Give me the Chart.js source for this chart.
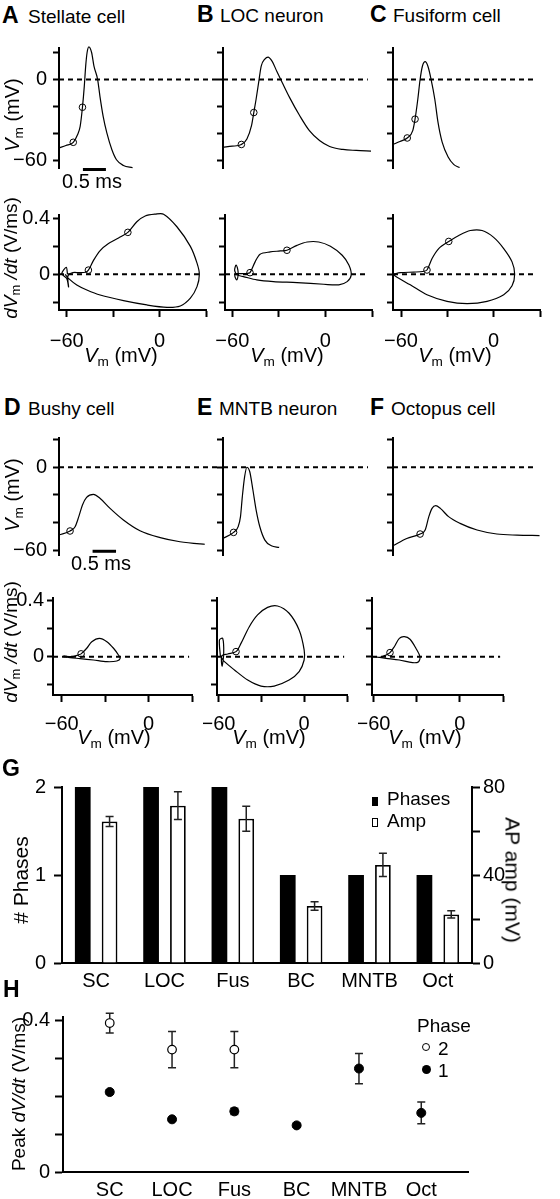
<!DOCTYPE html>
<html>
<head>
<meta charset="utf-8">
<title>AP waveforms and phase plots</title>
<script src="https://cdn.jsdelivr.net/npm/chart.js@4.4.1/dist/chart.umd.min.js"></script>
<style>
  body { margin: 0; background: #fff; }
  #fig { position: relative; width: 560px; height: 1199px; overflow: hidden;
         font-family: "Liberation Sans", Arial, Helvetica, sans-serif; color: #000; }
  #fig canvas { position: absolute; }
  .txt { position: absolute; white-space: nowrap; line-height: 1; }
  .txt sub { font-size: 0.68em; vertical-align: -0.28em; line-height: 0; font-style: normal; }
  .letter { font-weight: bold; }
  .mk { position: absolute; box-sizing: border-box; }
</style>
</head>
<body>
<div id="fig"></div>
<script>
// membrane potential traces, [time (ms), Vm (mV)]
const stellateVm = [[0,-50.6],[0.15,-48.8],[0.31,-46.4],[0.40,-41.0],[0.46,-34.6],[0.51,-20.5],[0.55,-4.9],[0.58,9.9],[0.61,19.8],[0.65,24.2],[0.71,19.8],[0.76,9.9],[0.84,0],[0.89,-12.4],[0.96,-27.2],[1.04,-39.5],[1.15,-51.9],[1.25,-59.3],[1.40,-63.5],[1.60,-65.2]];
const stellateVmMarks = [[0.31,-46.4],[0.51,-20.5]];
const locVm = [[0,-50.0],[0.20,-49.3],[0.40,-48.0],[0.52,-43.9],[0.62,-34.1],[0.67,-24.4],[0.72,-14.6],[0.78,-1.2],[0.83,9.8],[0.91,15.1],[0.98,16.6],[1.07,13.4],[1.17,6.1],[1.29,-2.4],[1.45,-13.4],[1.67,-26.8],[1.88,-37.8],[2.10,-45.1],[2.32,-49.5],[2.61,-51.7],[2.90,-52.4],[3.22,-52.9]];
const locVmMarks = [[0.40,-48.0],[0.67,-24.4]];
const fusVm = [[0,-48.0],[0.15,-45.8],[0.31,-43.2],[0.43,-37.8],[0.48,-29.3],[0.54,-14.6],[0.59,0],[0.64,9.8],[0.70,13.2],[0.76,9.8],[0.83,0],[0.91,-14.6],[0.98,-31.7],[1.07,-46.3],[1.20,-57.3],[1.32,-62.7],[1.45,-65.1]];
const fusVmMarks = [[0.31,-43.2],[0.48,-29.3]];
const bushyVm = [[0,-49.1],[0.24,-46.2],[0.35,-43.1],[0.43,-35.8],[0.51,-27.3],[0.60,-21.8],[0.75,-19.6],[0.89,-22.5],[1.11,-29.8],[1.40,-38.2],[1.76,-46.0],[2.20,-51.0],[2.63,-54.0],[3.07,-55.6],[3.17,-55.8]];
const bushyVmMarks = [[0.24,-46.2]];
const mntbVm = [[0,-51.5],[0.23,-47.2],[0.33,-43.0],[0.38,-35.8],[0.42,-21.3],[0.47,-6.8],[0.52,0],[0.58,-3.1],[0.65,-16.5],[0.72,-31.0],[0.80,-43.1],[0.91,-52.8],[1.05,-56.9],[1.22,-58.1]];
const mntbVmMarks = [[0.23,-47.2]];
const octopusVm = [[0,-56.9],[0.30,-51.6],[0.59,-48.4],[0.70,-45.5],[0.78,-35.8],[0.85,-29.8],[0.93,-27.8],[1.03,-29.8],[1.21,-35.8],[1.46,-40.7],[1.83,-45.5],[2.26,-48.4],[2.70,-49.2],[3.19,-49.5]];
const octopusVmMarks = [[0.59,-48.4]];

// phase plots, [Vm (mV), dVm/dt (V/ms)]
const stellatePhase = [[-59.5,0.0],[-60.3,0.05],[-63.2,0.005],[-60.0,-0.03],[-58.8,-0.09],[-59.2,-0.01],[-56,0.012],[-52,0.012],[-48,0.015],[-46,0.03],[-42.7,0.10],[-38.4,0.17],[-33,0.22],[-26.5,0.26],[-20.5,0.30],[-14.7,0.376],[-9.3,0.417],[-2.8,0.43],[2.6,0.43],[11.2,0.34],[19.9,0.20],[24.2,0.08],[25.7,0],[24.2,-0.088],[19.9,-0.17],[13.4,-0.226],[4.8,-0.236],[-8.2,-0.219],[-23.3,-0.188],[-38.4,-0.148],[-47,-0.112],[-53.5,-0.076],[-58.9,-0.029],[-61,0]];
const stellatePhaseMarks = [[-46,0.03],[-20.5,0.30]];
const locPhase = [[-57.5,0.0],[-58.5,0.03],[-57.6,0.066],[-56.4,0.03],[-56.3,-0.01],[-57.2,-0.04],[-58.4,-0.01],[-57.5,0.005],[-55,0.005],[-51,0.006],[-48.6,0.012],[-45.3,0.089],[-42.1,0.144],[-35.6,0.16],[-29.1,0.167],[-24.8,0.172],[-18.3,0.207],[-11.8,0.231],[-4.3,0.231],[3.2,0.2],[10.8,0.136],[15.1,0.066],[16.6,-0.005],[14,-0.052],[8.6,-0.075],[-1.1,-0.071],[-18.3,-0.059],[-33.5,-0.052],[-44.2,-0.04],[-52.9,-0.016],[-57.2,-0.005]];
const locPhaseMarks = [[-48.6,0.012],[-24.8,0.172]];
const fusPhase = [[-65.2,0],[-60.4,0.012],[-51.8,0.016],[-46,0.02],[-43.2,0.031],[-39.9,0.113],[-35.6,0.184],[-29.1,0.235],[-22.6,0.278],[-15.1,0.313],[-7.5,0.313],[0,0.264],[6.5,0.184],[11.9,0.089],[13.6,0],[11.9,-0.082],[6.5,-0.146],[-4.3,-0.193],[-17.2,-0.209],[-30.2,-0.193],[-43.2,-0.146],[-54,-0.075],[-62.6,-0.021],[-65.2,0]];
const fusPhaseMarks = [[-43.2,0.031],[-29.1,0.235]];
const bushyPhase = [[-58.8,0.005],[-53,0],[-48.5,0.012],[-46.6,0.02],[-42.7,0.06],[-39.2,0.107],[-33.9,0.131],[-28.8,0.107],[-24.2,0.06],[-20.8,0.012],[-19.6,-0.012],[-21.9,-0.031],[-28.8,-0.036],[-38.1,-0.024],[-47.3,-0.014],[-54.2,-0.007],[-58.8,0]];
const bushyPhaseMarks = [[-46.6,0.02]];
const mntbPhase = [[-58.6,0],[-59.3,0.119],[-57,0.131],[-56.3,0.024],[-57.4,-0.067],[-57.7,0.005],[-53.5,0.019],[-47.7,0.036],[-44.2,0.095],[-38.4,0.214],[-32.6,0.298],[-25.6,0.352],[-18.6,0.362],[-10.5,0.31],[-3.5,0.19],[0,0.048],[0,-0.024],[-3.5,-0.107],[-10.5,-0.167],[-21,-0.21],[-30.2,-0.21],[-39.5,-0.167],[-48.8,-0.095],[-55.8,-0.036],[-58.1,-0.005]];
const mntbPhaseMarks = [[-47.7,0.036]];
const octopusPhase = [[-60.5,0],[-55.4,-0.005],[-51.2,0.012],[-48.5,0.029],[-45.5,0.071],[-42,0.131],[-38.5,0.143],[-34.6,0.124],[-30.5,0.06],[-27.7,0],[-28.6,-0.036],[-32.8,-0.043],[-42,-0.024],[-51.2,-0.012],[-60,0]];
const octopusPhaseMarks = [[-48.5,0.029]];

// G and H summary
const cellTypes = ['SC', 'LOC', 'Fus', 'BC', 'MNTB', 'Oct'];
const phaseCount = [2, 2, 2, 1, 1, 1];
const apAmp = [64.3, 71.5, 65.6, 25.9, 44.6, 22.1];
const apAmpErr = [2.3, 6.3, 5.7, 1.9, 5.3, 1.7];
const peakPhase2 = [0.393, 0.323, 0.323, null, null, null];
const peakPhase2Err = [0.026, 0.048, 0.048, null, null, null];
const peakPhase1 = [0.211, 0.139, 0.160, 0.123, 0.273, 0.156];
const peakPhase1Err = [0.006, 0.005, 0.008, 0.005, 0.040, 0.029];

// ticks
const vmTicks = [-60, -40, -20, 0, 20];
const vmTickLabels = [-60, 0];
const phaseXTicks = [-60, -30, 0, 30];
const phaseXLabels = [-60, 0];
const phaseYTicks = [-0.2, 0, 0.2, 0.4];
const phaseYLabels = [0, 0.4];
const gLeftTicks = [0, 1, 2];
const gRightTicks = [0, 20, 40, 60, 80];
const gRightLabels = [0, 40, 80];
const hXTicks = [1, 2, 3, 4, 5, 6];
const hYTicks = [0, 0.1, 0.2, 0.3, 0.4];
const hYLabels = [0, 0.4];

const FONT = '"Liberation Sans", Arial, Helvetica, sans-serif';
const fig = document.getElementById('fig');

Chart.defaults.font.family = FONT;
Chart.defaults.font.size = 20;
Chart.defaults.color = '#000';
Chart.defaults.animation = false;
Chart.defaults.plugins.legend.display = false;
Chart.defaults.plugins.tooltip.enabled = false;

const fmt = v => v < 0 ? '\u2212' + Math.abs(v) : String(v);
const xy = pts => pts.map(p => ({x: p[0], y: p[1]}));

// error bars drawn from dataset.errors through the y scale
const errorBars = {
  id: 'errorBars',
  beforeDatasetsDraw(chart, args, opts) { if (opts.under) drawErrors(chart, opts); },
  afterDatasetsDraw(chart, args, opts) { if (!opts.under) drawErrors(chart, opts); }
};
function drawErrors(chart, opts) {
  const ctx = chart.ctx;
  ctx.save();
  ctx.strokeStyle = '#222';
  ctx.lineWidth = opts.width || 1.5;
  chart.data.datasets.forEach((ds, i) => {
    if (!ds.errors) return;
    const meta = chart.getDatasetMeta(i);
    const ys = chart.scales[meta.yAxisID];
    const c = (opts.cap || 8) / 2;
    meta.data.forEach((el, j) => {
      const e = ds.errors[j];
      if (e == null) return;
      const raw = ds.data[j];
      const v = typeof raw === 'object' ? raw.y : raw;
      const x = el.x, y1 = ys.getPixelForValue(v + e), y0 = ys.getPixelForValue(v - e);
      ctx.beginPath();
      ctx.moveTo(x, y0); ctx.lineTo(x, y1);
      ctx.moveTo(x - c, y1); ctx.lineTo(x + c, y1);
      ctx.moveTo(x - c, y0); ctx.lineTo(x + c, y0);
      ctx.stroke();
    });
  });
  ctx.restore();
}

function axis(ticks, labels, o) {
  const a = {
    type: 'linear', bounds: 'data',
    border: {display: true, width: 2, color: '#000'},
    grid: {display: true, drawOnChartArea: false, drawTicks: true, tickLength: 6, tickWidth: 2, tickColor: '#000'},
    ticks: {autoSkip: false, maxRotation: 0, padding: 6, callback: v => labels.indexOf(v) >= 0 ? fmt(v) : ''},
    afterBuildTicks: s => { s.ticks = ticks.map(v => ({value: v})); }
  };
  for (const k in o) {
    if (o[k] && typeof o[k] === 'object' && !Array.isArray(o[k]) && a[k]) Object.assign(a[k], o[k]);
    else a[k] = o[k];
  }
  return a;
}

// area = chart area in page px [left, top, right, bottom]; margin = room round it [l, t, r, b]
function makeChart(area, margin, data, scales, extra) {
  extra = extra || {};
  const [l, t, r, b] = area, [ml, mt, mr, mb] = margin;
  const w = r - l + ml + mr, h = b - t + mt + mb;
  const cv = document.createElement('canvas');
  cv.width = w; cv.height = h;
  cv.style.left = (l - ml) + 'px'; cv.style.top = (t - mt) + 'px';
  cv.style.width = w + 'px'; cv.style.height = h + 'px';
  fig.appendChild(cv);
  let padRight = mr, padBottom = mb;
  for (const id in scales) {
    const s = scales[id];
    if (s.display === false) continue;
    const pos = s.position || (id.startsWith('x') ? 'bottom' : 'left');
    if (pos === 'right') padRight = 0;
    if (pos === 'bottom') padBottom = 0;
    const size = pos === 'bottom' ? mb : pos === 'right' ? mr : ml;
    s.afterFit = sc => {
      if (sc.isHorizontal()) sc.height = size; else sc.width = size;
      sc.paddingLeft = sc.paddingRight = sc.paddingTop = sc.paddingBottom = 0;
    };
  }
  return new Chart(cv, {
    type: extra.type || 'scatter',
    data: data,
    options: {
      responsive: false, maintainAspectRatio: false, animation: false,
      layout: {autoPadding: false, padding: {left: 0, top: mt, right: padRight, bottom: padBottom}},
      scales: scales,
      plugins: Object.assign({legend: {display: false}, tooltip: {enabled: false}}, extra.plugins || {})
    },
    plugins: [errorBars]
  });
}

function vmPanel(p) {
  const ds = [
    {data: [{x: 0, y: 0}, {x: p.dashEnd, y: 0}], showLine: true, borderColor: '#000', borderWidth: 2, borderDash: [5, 4], pointRadius: 0, clip: false},
    {data: xy(p.trace), showLine: true, borderColor: '#000', borderWidth: 1.2, pointRadius: 0, cubicInterpolationMode: 'monotone', clip: false},
    {data: xy(p.marks), pointRadius: 3.3, pointBorderWidth: 1, pointBorderColor: '#000', pointBackgroundColor: 'rgba(255,255,255,0)', clip: false}
  ];
  if (p.bar) ds.push({data: [{x: p.bar[0], y: p.bar[2]}, {x: p.bar[1], y: p.bar[2]}], showLine: true, borderColor: '#000', borderWidth: 3, pointRadius: 0, clip: false});
  makeChart(p.area, p.margin, {datasets: ds}, {
    x: {type: 'linear', display: false, bounds: 'data', min: 0, max: p.xMax},
    y: axis(vmTicks, p.labels ? vmTickLabels : [], {min: p.y[0], max: p.y[1]})
  });
}

function phasePanel(p) {
  const ds = [
    {data: [{x: p.x[0], y: 0}, {x: 28, y: 0}], showLine: true, borderColor: '#000', borderWidth: 2, borderDash: [5, 4], pointRadius: 0, clip: false},
    {data: xy(p.trace), showLine: true, borderColor: '#000', borderWidth: 1.2, pointRadius: 0, tension: 0.3, clip: false},
    {data: xy(p.marks), pointRadius: 3.3, pointBorderWidth: 1, pointBorderColor: '#000', pointBackgroundColor: 'rgba(255,255,255,0)', clip: false}
  ];
  makeChart(p.area, p.margin, {datasets: ds}, {
    x: axis(phaseXTicks, phaseXLabels, {min: p.x[0], max: p.x[1], grid: {tickLength: 7}, ticks: {padding: p.xPad}}),
    y: axis(phaseYTicks, p.labels ? phaseYLabels : [], {min: p.y[0], max: p.y[1], ticks: {padding: 3}})
  });
}

// A-F traces
const topVmY = [-65.4, 23.3], midVmY = [-63.6, 21.2];
vmPanel({trace: stellateVm, marks: stellateVmMarks, area: [59, 48, 220, 168], margin: [59, 8, 3, 28], y: topVmY, xMax: 3.5, dashEnd: 3.5, labels: true, bar: [0.52, 1.02, -66.5]});
vmPanel({trace: locVm, marks: locVmMarks, area: [223, 48, 371, 168], margin: [14, 8, 3, 28], y: topVmY, xMax: 3.22, dashEnd: 3.15});
vmPanel({trace: fusVm, marks: fusVmMarks, area: [393, 48, 540, 168], margin: [14, 8, 10, 28], y: topVmY, xMax: 3.2, dashEnd: 3.12});
vmPanel({trace: bushyVm, marks: bushyVmMarks, area: [59, 438, 220, 555], margin: [59, 8, 3, 28], y: midVmY, xMax: 3.5, dashEnd: 3.5, labels: true, bar: [0.73, 1.24, -60.9]});
vmPanel({trace: mntbVm, marks: mntbVmMarks, area: [223, 438, 368, 555], margin: [14, 8, 3, 28], y: midVmY, xMax: 3.15, dashEnd: 3.15});
vmPanel({trace: octopusVm, marks: octopusVmMarks, area: [393, 438, 540, 555], margin: [14, 8, 10, 28], y: midVmY, xMax: 3.2, dashEnd: 3.12});

const topPhY = [-0.255, 0.424], botPhY = [-0.274, 0.419];
phasePanel({trace: stellatePhase, marks: stellatePhaseMarks, area: [59, 215, 206, 310], margin: [59, 8, 8, 48], x: [-65, 30], y: topPhY, xPad: 12, labels: true});
phasePanel({trace: locPhase, marks: locPhaseMarks, area: [225, 215, 372, 310], margin: [14, 8, 8, 48], x: [-64.7, 30], y: topPhY, xPad: 12});
phasePanel({trace: fusPhase, marks: fusPhaseMarks, area: [393, 215, 540, 310], margin: [14, 8, 12, 48], x: [-65.2, 30], y: topPhY, xPad: 12});
phasePanel({trace: bushyPhase, marks: bushyPhaseMarks, area: [53, 598, 192, 695], margin: [53, 8, 8, 48], x: [-66, 30], y: botPhY, xPad: 10, labels: true});
phasePanel({trace: mntbPhase, marks: mntbPhaseMarks, area: [217, 598, 347, 695], margin: [14, 8, 8, 48], x: [-61, 30], y: botPhY, xPad: 10});
phasePanel({trace: octopusPhase, marks: octopusPhaseMarks, area: [372, 598, 503, 695], margin: [14, 8, 12, 48], x: [-61, 30], y: botPhY, xPad: 10});

// G
const barShape = {barPercentage: 0.586, categoryPercentage: 0.785};
makeChart([62, 787, 472, 963], [62, 12, 88, 34], {
  labels: cellTypes,
  datasets: [
    Object.assign({label: 'Phases', data: phaseCount, yAxisID: 'y', backgroundColor: '#000', borderWidth: 0}, barShape),
    Object.assign({label: 'Amp', data: apAmp, errors: apAmpErr, yAxisID: 'y2', backgroundColor: '#fff', borderColor: '#000', borderWidth: 1.8}, barShape)
  ]
}, {
  x: {type: 'category', offset: true, grid: {display: false, drawTicks: false}, border: {display: true, width: 2, color: '#000'}, ticks: {padding: 6, autoSkip: false, maxRotation: 0}},
  y: axis(gLeftTicks, gLeftTicks, {min: 0, max: 2, grid: {tickLength: 8}, ticks: {padding: 8}}),
  y2: axis(gRightTicks, gRightLabels, {position: 'right', min: 0, max: 80, grid: {tickLength: 8}, ticks: {padding: 3}})
}, {type: 'bar', plugins: {errorBars: {under: false, cap: 8, width: 1.5}}});

// H
const hPts = vals => vals.map((v, i) => v == null ? null : {x: i + 1, y: v}).filter(Boolean);
const hErr = (vals, errs) => errs.filter((e, i) => vals[i] != null);
makeChart([63, 1017, 468, 1172], [63, 10, 92, 27], {
  datasets: [
    {label: '1', data: hPts(peakPhase1), errors: hErr(peakPhase1, peakPhase1Err), pointRadius: 4.5, pointBackgroundColor: '#000', pointBorderColor: '#000', pointBorderWidth: 1},
    {label: '2', data: hPts(peakPhase2), errors: hErr(peakPhase2, peakPhase2Err), pointRadius: 4.3, pointBackgroundColor: '#fff', pointBorderColor: '#000', pointBorderWidth: 1.2}
  ]
}, {
  x: axis(hXTicks, [], {min: 0.25, max: 6.75, grid: {display: false, drawTicks: false}, ticks: {padding: 6, callback: v => cellTypes[v - 1] || ''}}),
  y: axis(hYTicks, hYLabels, {min: 0, max: 0.409, grid: {tickLength: 8}, ticks: {padding: 5}})
}, {plugins: {errorBars: {under: true, cap: 8, width: 1.5}}});

// text
function txt(html, x, base, size, o) {
  o = o || {};
  const d = document.createElement('div');
  d.className = 'txt' + (o.cls ? ' ' + o.cls : '');
  d.innerHTML = html;
  d.style.fontSize = size + 'px';
  d.style.left = x + 'px';
  d.style.top = (base - 0.847 * size) + 'px';
  if (o.center) d.style.transform = 'translateX(-50%)';
  fig.appendChild(d);
}
function vtxt(html, cx, cy, size, deg) {
  const d = document.createElement('div');
  d.className = 'txt';
  d.innerHTML = html;
  d.style.fontSize = size + 'px';
  d.style.left = cx + 'px';
  d.style.top = cy + 'px';
  d.style.transform = 'translate(-50%,-50%) rotate(' + deg + 'deg)';
  fig.appendChild(d);
}
function mark(x, y, w, h, css) {
  const d = document.createElement('div');
  d.className = 'mk';
  d.style.cssText += 'left:' + x + 'px;top:' + y + 'px;width:' + w + 'px;height:' + h + 'px;' + css;
  fig.appendChild(d);
}

const panelTitles = [
  ['A', 'Stellate cell', 2, 28, 23], ['B', 'LOC neuron', 197, 220, 22], ['C', 'Fusiform cell', 370, 393, 22],
  ['D', 'Bushy cell', 4, 28, 415], ['E', 'MNTB neuron', 197, 219, 415], ['F', 'Octopus cell', 370, 391, 415]
];
panelTitles.forEach(([k, name, xk, xn, base]) => {
  txt(k, xk, base, 23, {cls: 'letter'});
  txt(name, xn, base, 19);
});
txt('G', 2, 776, 23, {cls: 'letter'});
txt('H', 3, 997, 23, {cls: 'letter'});

const vmTitle = '<i>V</i><sub>m</sub> (mV)';
const dvTitle = '<i>dV</i><sub>m</sub> <i>/dt</i> (V/ms)';
vtxt(vmTitle, 12, 115, 20, -90);
vtxt(vmTitle, 12, 495, 20, -90);
vtxt(dvTitle, 10, 258, 19, -90);
vtxt(dvTitle, 10, 642, 19, -90);
[121, 287, 455].forEach(cx => txt(vmTitle, cx, 362, 20, {center: true}));
[114, 269, 425].forEach(cx => txt(vmTitle, cx, 744, 20, {center: true}));
txt('0.5 ms', 92, 188, 20, {center: true});
txt('0.5 ms', 101, 570, 20, {center: true});

vtxt('# Phases', 20, 880, 21, -90);
vtxt('AP amp (mV)', 513, 880, 21, 90);
mark(372, 797, 6, 9, 'background:#000;');
txt('Phases', 387, 805, 19);
mark(372, 818, 6, 9, 'border:1.5px solid #000;background:#fff;');
txt('Amp', 387, 827, 19);

vtxt('Peak <i>dV/dt</i> (V/ms)', 18, 1094, 19, -90);
txt('Phase', 417, 1032, 19);
mark(422, 1043, 8, 8, 'border:1.2px solid #000;border-radius:50%;');
txt('2', 438, 1055, 19);
mark(421.5, 1064.5, 9, 9, 'background:#000;border-radius:50%;');
txt('1', 438, 1077, 19);
</script>
</body>
</html>
